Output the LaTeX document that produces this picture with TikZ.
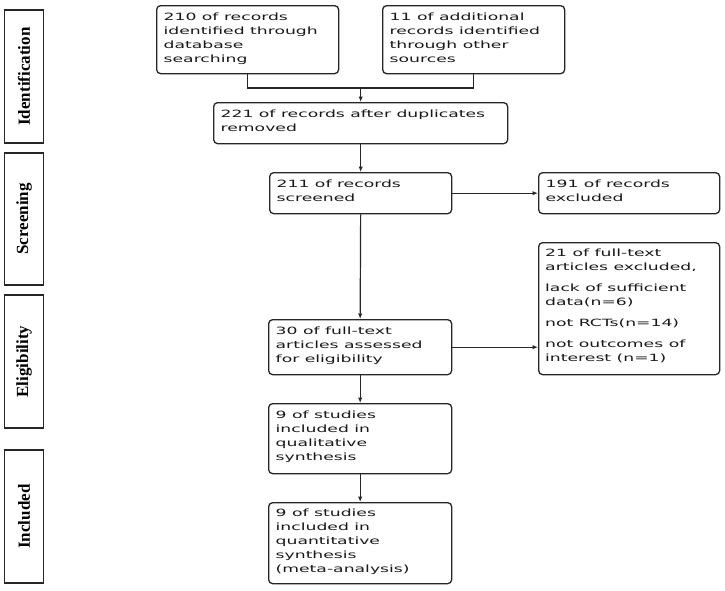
\documentclass[tikz,border=0pt]{standalone}
\usepackage{fontspec}
\setmainfont{DejaVu Sans}[FakeStretch=1.72]
\newfontfamily\sidefont{Liberation Serif}
\usetikzlibrary{arrows.meta}
\newcommand{\bxtxt}[2]{\parbox[t]{#1pt}{\raggedright #2}}
\tikzset{
  flow/.style={draw=black!85, line width=1.3pt, rounded corners=4pt, anchor=north west, inner sep=0pt, fill=white},
  txt/.style={anchor=base west, inner sep=0pt, text=black!90, font=\fontsize{10}{14.2}\selectfont},
  side/.style={draw=black!85, line width=1.3pt, rotate=90, inner sep=0pt, font=\sidefont\bfseries\fontsize{17}{20}\selectfont},
  link/.style={line width=1.2pt, draw=black!85},
  arr/.style={link, -{Latex[length=5.5pt,width=4.5pt]}}
}
\begin{document}
\begin{tikzpicture}[x=1pt,y=-1pt]
\useasboundingbox (0,0) rectangle (725,590);
% side labels
\node[side, minimum width=133pt, minimum height=38.6pt] (s1) at (24,76.5) {Identification};
\node[side, minimum width=132pt, minimum height=38.6pt] (s2) at (24,219) {Screening};
\node[side, minimum width=133pt, minimum height=38.6pt] (s3) at (24,361.5) {Eligibility};
\node[side, minimum width=133pt, minimum height=38.6pt] (s4) at (24,516.5) {Included};
% boxes
\node[flow, minimum width=182pt, minimum height=68pt] (b1) at (156,5) {};
\node[flow, minimum width=182pt, minimum height=68pt] (b2) at (382,5) {};
\node[flow, minimum width=294pt, minimum height=41pt] (b3) at (213,102) {};
\node[flow, minimum width=182pt, minimum height=41pt] (b4) at (269,172) {};
\node[flow, minimum width=181pt, minimum height=41pt] (b5) at (538,172) {};
\node[flow, minimum width=181pt, minimum height=132pt] (b6) at (538,242) {};
\node[flow, minimum width=183pt, minimum height=55pt] (b7) at (268,319) {};
\node[flow, minimum width=183pt, minimum height=70pt] (b8) at (268,403) {};
\node[flow, minimum width=183pt, minimum height=81pt] (b9) at (268,502) {};
% texts
\node[txt] (t1) at ([shift={(7.5,15)}]b1.north west) {\bxtxt{170}{210 of records\\identified through\\database\\searching}};
\node[txt] (t2) at ([shift={(7.5,15)}]b2.north west) {\bxtxt{170}{11 of additional\\records identified\\through other\\sources}};
\node[txt] (t3) at ([shift={(7.5,15)}]b3.north west) {\bxtxt{285}{221 of records after duplicates\\removed}};
\node[txt] (t4) at ([shift={(7.5,15)}]b4.north west) {\bxtxt{170}{211 of records\\screened}};
\node[txt] (t5) at ([shift={(7.5,15)}]b5.north west) {\bxtxt{170}{191 of records\\excluded}};
\node[txt] (t6) at ([shift={(7,14.5)}]b6.north west) {\bxtxt{172}{21 of full-text\\articles excluded,\\[6.5pt]lack of sufficient\\data(n=6)\\[6.5pt]not RCTs(n=14)\\[6.5pt]not outcomes of\\interest (n=1)}};
\node[txt] (t7) at ([shift={(7.5,15)}]b7.north west) {\bxtxt{170}{30 of full-text\\articles assessed\\for eligibility}};
\node[txt] (t8) at ([shift={(7.5,15)}]b8.north west) {\bxtxt{170}{9 of studies\\included in\\qualitative\\synthesis}};
\node[txt] (t9) at ([shift={(7.5,14)}]b9.north west) {\bxtxt{170}{9 of studies\\included in\\quantitative\\synthesis\\(meta-analysis)}};
% connectors
\path (b3.north) ++(0,-14) coordinate (mg);
\draw[link] (b1.south) |- (mg) -| (b2.south);
\draw[arr] (mg) -- (b3.north);
\draw[arr] (b3.south) -- (b4.north);
\draw[arr] (b4.east) -- (b5.west);
\draw[arr] (b4.south) -- (b7.north);
\draw[arr] (b7.east) -- (b7.east -| b6.west);
\draw[arr] (b7.south) -- (b8.north);
\draw[arr] (b8.south) -- (b9.north);
\end{tikzpicture}
\end{document}
